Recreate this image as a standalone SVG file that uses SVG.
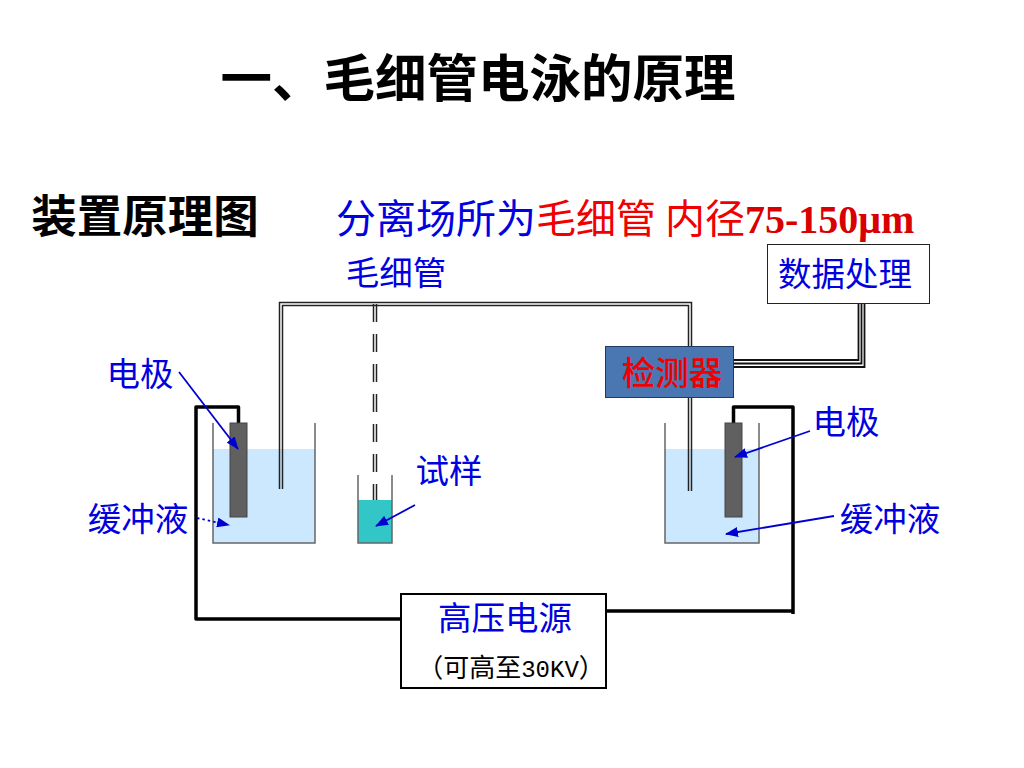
<svg xmlns="http://www.w3.org/2000/svg" width="1024" height="768" viewBox="0 0 1024 768">
<style>
text{font-family:"Noto Sans CJK SC","Liberation Sans",sans-serif;fill:#0000e0;font-size:33.500px;text-anchor:middle}
.b{fill:#000;font-weight:700}
.ser{font-family:"Liberation Serif","Noto Sans CJK SC",serif;font-weight:700}
.wire{fill:none;stroke:#000;stroke-width:3.500;stroke-linejoin:round}
.cap{fill:none;stroke:#222;stroke-width:1.500}
.beaker{fill:none;stroke:#666;stroke-width:1.500}
.water{fill:#cce8ff}
.elec{fill:#606060;stroke:#444;stroke-width:1}
.ptr{fill:none;stroke:#0000d0;stroke-width:1.800;marker-end:url(#ah)}
</style>
<defs>
<marker id="ah" markerWidth="13" markerHeight="10" refX="12" refY="5" orient="auto" markerUnits="userSpaceOnUse"><path d="M0 0L13 5L0 10z" fill="#0000d0"/></marker>
</defs>
<rect width="1024" height="768" fill="#fff"/>
<g id="title"><text x="478" y="97" class="b" style="font-size:51.500px">一、毛细管电泳的原理</text></g>
<g id="subtitle"><text x="145" y="233" class="b" style="font-size:45.500px">装置原理图</text>
<text x="336" y="233" style="font-size:40px;text-anchor:start">分离场所为<tspan style="fill:#f00000">毛细管 内径</tspan><tspan class="ser" style="fill:#d80000;font-size:40px">75-150μm</tspan></text></g>
<g id="left-beaker"><rect class="water" x="213" y="449" width="102" height="94"/><path class="beaker" d="M213 423V543H315V423"/></g>
<g id="right-beaker"><rect class="water" x="665" y="449" width="94" height="94"/><path class="beaker" d="M665 423V543H759V423"/></g>
<g id="sample-beaker"><rect x="358" y="500" width="34" height="43" fill="#33c6c6"/><path class="beaker" d="M358 475V543H392V475"/></g>
<g id="connectors">
<path class="wire" d="M238.500 423V407H196V619H400"/>
<path class="wire" d="M733.500 423V407H793V614M607 611H793"/>
<path class="cap" d="M279.500 489V302.500H691.500V491"/>
<path class="cap" d="M282.500 489V305.500H688.500V491"/>
<path class="cap" d="M373.500 304V500M376.500 304V500" stroke-dasharray="18 12"/>
<path fill="none" stroke="#111" stroke-width="1.800" d="M733 360H858.500V304M733 363.500H861.500V304M733 367H864.500V304"/>
</g>
<g id="electrode-left"><rect class="elec" x="230" y="423" width="17" height="94"/></g>
<g id="electrode-right"><rect class="elec" x="725" y="423" width="17" height="94"/></g>
<g id="detector"><rect x="605.500" y="346.500" width="128" height="51" fill="#4a76b2" stroke="#1f3a60" stroke-width="1"/><text x="672" y="385" style="fill:#f00000;font-weight:500">检测器</text></g>
<g id="data-box"><rect x="767.500" y="244.500" width="162" height="59" fill="#fff" stroke="#222" stroke-width="1"/><text x="845" y="286">数据处理</text></g>
<g id="power"><rect x="401" y="594" width="205" height="94" fill="#fff" stroke="#000" stroke-width="2"/><text x="505" y="630">高压电源</text><text x="511" y="677" style="fill:#000;font-size:26px">（可高至<tspan style="font-family:'Liberation Mono',monospace;font-size:24px">30KV</tspan>）</text></g>
<g id="labels">
<text x="396" y="285">毛细管</text>
<text x="140" y="386">电极</text>
<text x="138" y="531">缓冲液</text>
<text x="449" y="483">试样</text>
<text x="846" y="434">电极</text>
<text x="890" y="531">缓冲液</text>
</g>
<g id="pointers">
<path class="ptr" d="M179 372L238 449"/>
<path class="ptr" d="M197 518L229 525" stroke-dasharray="2.500 3"/>
<path class="ptr" d="M415 505L376 526"/>
<path class="ptr" d="M810 431L735 457"/>
<path class="ptr" d="M834 516L726 534"/>
</g>
</svg>
